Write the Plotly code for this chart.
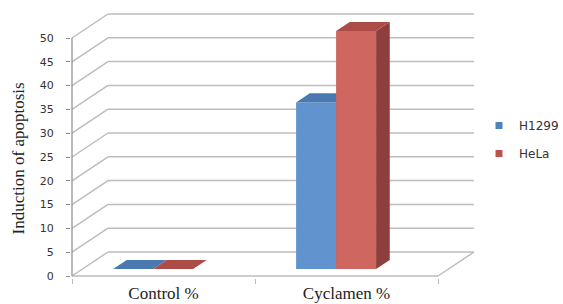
import plotly.graph_objects as go

# ---- data ----
categories = ["Control %", "Cyclamen %"]
series_names = ["H1299", "HeLa"]
h1299 = [0, 35]
hela = [0, 50]
y_ticks = [0, 5, 10, 15, 20, 25, 30, 35, 40, 45, 50]

# ---- geometry (oblique projection of Excel-style 3D chart) ----
W, H = 563, 304
PX_X = 183.0      # pixels per category
PX_Y = 4.76       # pixels per value unit
DX = 36.0 / PX_X  # x shift (category units) for full depth
DY = 24.0 / PX_Y  # y shift (value units) for full depth
BAR_W = 40.0 / PX_X
GROUP_OFF = 0.386
D0, D1 = 0.29, 0.67

L_M, R_M, T_M, B_M = 71, 83, 10, 26
PW = W - L_M - R_M
PH = H - T_M - B_M
x_min = -1.0 / PX_X
x_max = x_min + PW / PX_X
y_min = -2.0 / PX_Y
y_max = y_min + PH / PX_Y

n_cat = len(categories)
vmax = y_ticks[-1]

def P(x, v, d):
    return x + d * DX, v + d * DY

grid_col = "#BDBDBD"
axis_col = "#8C8C8C"

fig = go.Figure()

def add_lines(segs, color, width):
    xs, ys = [], []
    for a, b in segs:
        pa, pb = P(*a), P(*b)
        xs += [pa[0], pb[0], None]
        ys += [pa[1], pb[1], None]
    fig.add_trace(go.Scatter(x=xs, y=ys, mode="lines", line=dict(color=color, width=width),
                             hoverinfo="skip", showlegend=False))

# walls / floor grid
segs = []
for v in y_ticks:
    segs.append(((0, v, 0), (0, v, 1)))
    segs.append(((0, v, 1), (n_cat, v, 1)))
segs.append(((0, 0, 0), (n_cat, 0, 0)))
segs.append(((n_cat, 0, 0), (n_cat, 0, 1)))
add_lines(segs, grid_col, 1.5)
# front value axis line
add_lines([((0, 0, 0), (0, vmax, 0))], axis_col, 1.2)

colors = {
    "H1299": dict(front="#6194CF", top="#4A79B2", side="#3F6796", legend="#4F81BD"),
    "HeLa": dict(front="#CF6660", top="#AD4B46", side="#8C3F3B", legend="#C0504D"),
}

def poly(pts, color):
    xs, ys = [], []
    for p in pts + [pts[0]]:
        q = P(*p)
        xs.append(q[0]); ys.append(q[1])
    fig.add_trace(go.Scatter(x=xs, y=ys, mode="lines", fill="toself", fillcolor=color,
                             line=dict(width=0, color=color), hoverinfo="skip", showlegend=False))

series = [("H1299", h1299), ("HeLa", hela)]
for g in range(n_cat):
    c = g + GROUP_OFF
    for s, (name, vals) in enumerate(series):
        v = vals[g]
        x0 = c - BAR_W + s * BAR_W
        x1 = x0 + BAR_W
        col = colors[name]
        if v > 0:
            poly([(x1, 0, D0), (x1, 0, D1), (x1, v, D1), (x1, v, D0)], col["side"])
            poly([(x0, 0, D0), (x1, 0, D0), (x1, v, D0), (x0, v, D0)], col["front"])
        poly([(x0, v, D0), (x1, v, D0), (x1, v, D1), (x0, v, D1)], col["top"])

# legend entries
for name, _ in series:
    fig.add_trace(go.Scatter(x=[None], y=[None], mode="markers", name=name, legendgroup=name,
                             marker=dict(symbol="square", size=7, color=colors[name]["legend"])))

fig.add_annotation(text="Induction of apoptosis", textangle=-90, xref="paper", yref="y",
                   x=-(L_M - 18) / PW, xanchor="center", yanchor="middle",
                   y=vmax / 2 - 0.3, showarrow=False,
                   font=dict(family="Liberation Serif", size=17, color="#222222"))

fig.update_layout(
    width=W, height=H,
    margin=dict(l=L_M, r=R_M, t=T_M, b=B_M, autoexpand=False),
    paper_bgcolor="white", plot_bgcolor="white",
    showlegend=True,
    legend=dict(x=(479 - L_M) / PW, y=1 - (111 - T_M) / PH, xanchor="left", yanchor="top",
                traceorder="grouped", tracegroupgap=9, itemwidth=30,
                font=dict(family="DejaVu Sans", size=12, color="#333333")),
    xaxis=dict(range=[x_min, x_max], showgrid=False, zeroline=False, showline=False,
               automargin=False, ticklabelstandoff=3,
               tickvals=[i + 0.5 for i in range(n_cat)], ticktext=categories, ticks="",
               tickfont=dict(family="Liberation Serif", size=17, color="#222222"),
               minor=dict(tickvals=list(range(n_cat + 1)), ticks="outside", ticklen=5,
                          tickcolor=grid_col, showgrid=False),
               fixedrange=True),
    yaxis=dict(range=[y_min, y_max], showgrid=False, zeroline=False, showline=False,
               automargin=False, ticklabelstandoff=10,
               tickvals=y_ticks, ticks="outside", ticklen=4, tickcolor=axis_col,
               tickfont=dict(family="DejaVu Sans", size=11, color="#333333"),
               fixedrange=True),
)

fig.write_html("out.html", config={"displayModeBar": False},
               post_script="document.body.style.margin='0';document.body.style.overflow='hidden';")
